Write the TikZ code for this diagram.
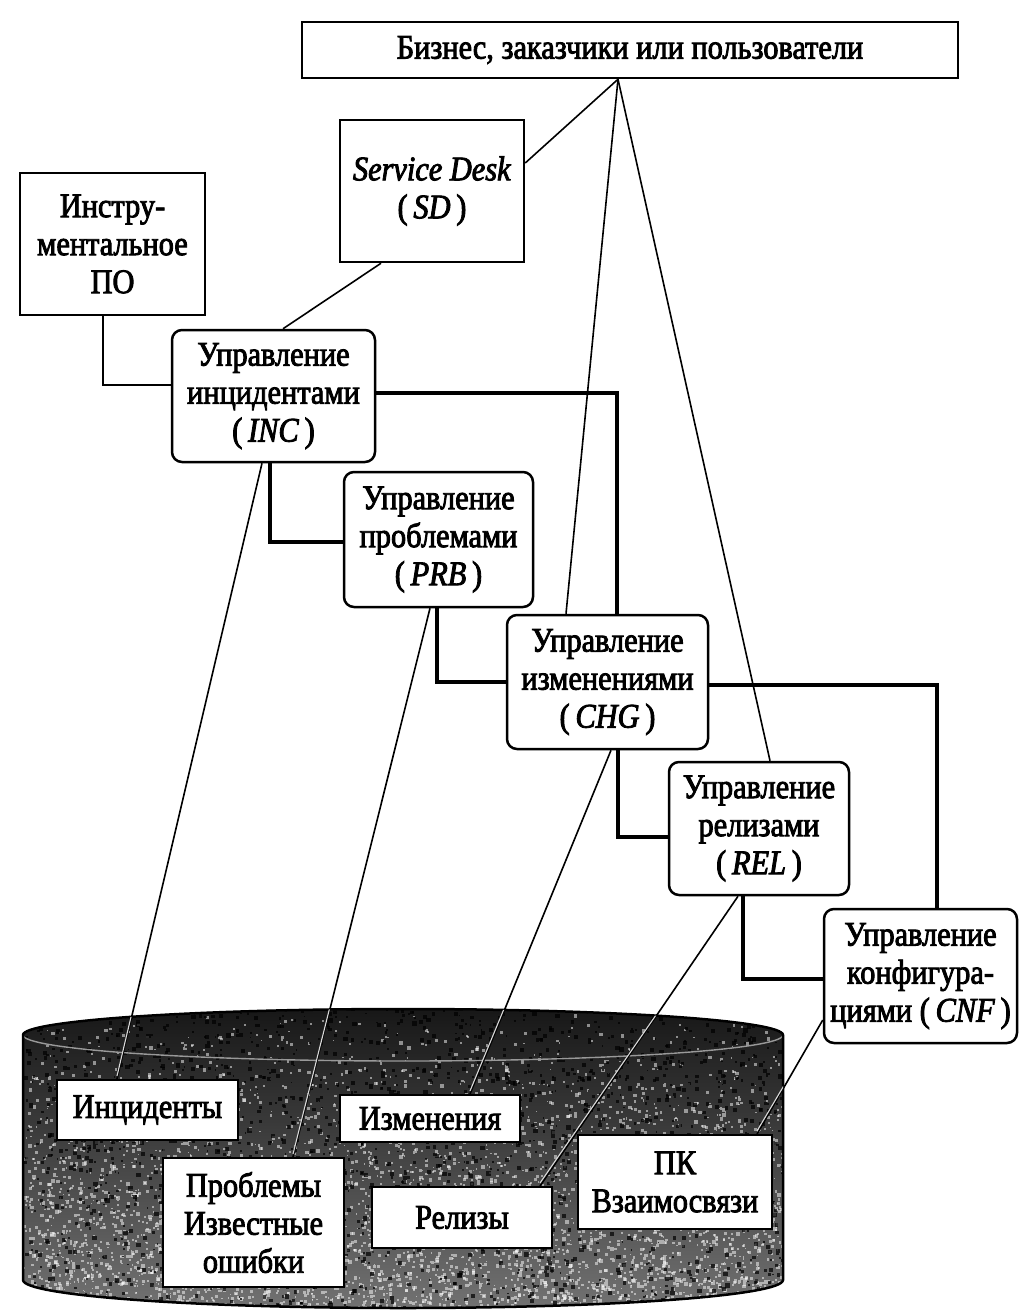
\documentclass[tikz,border=0pt]{standalone}
\usepackage{fontspec}
\setmainfont{Liberation Serif}[FakeStretch=0.88, FakeBold=2.5]
\usetikzlibrary{calc}
\begin{document}
\begin{tikzpicture}[x=1pt,y=-1pt,
  font=\fontsize{34.5}{38}\selectfont,
  box/.style={draw, line width=2.5pt, fill=white, align=center, inner sep=0pt},
  proc/.style={box, rounded corners=10pt},
  rec/.style={box, line width=2pt},
  tree/.style={line width=4pt},
  treethin/.style={line width=2.6pt},
  link/.style={line width=1.6pt},
  glowlink/.style={line width=1.1pt, white!85!black},
  cylout/.style={line width=2.5pt, black}]
\useasboundingbox (0,0) rectangle (1020,1311);

% ---------- cylinder (database) ----------
\begin{scope}
  \clip (23,1035) -- (23,1280) arc[start angle=180,end angle=0,x radius=380,y radius=28]
        -- (783,1035) arc[start angle=0,end angle=-180,x radius=380,y radius=26] -- cycle;
  \shade[top color=black!92, bottom color=black!55] (0,1000) rectangle (1020,1311);
  \pgfmathsetseed{42}
  \foreach \i in {1,...,4500}{
    \pgfmathsetmacro\sz{1.2+2.4*rnd}
    \fill[white, opacity=.5] ({23+760*rnd},{1005+305*sqrt(rnd)}) rectangle ++(\sz,\sz);
  }
  \foreach \i in {1,...,2000}{
    \pgfmathsetmacro\sz{1.5+3*rnd}
    \fill[black, opacity=.7] ({23+760*rnd},{1005+305*rnd}) rectangle ++(\sz,\sz);
  }
\end{scope}
\draw[line width=1.4pt, black!40] (403,1035) ellipse[x radius=380, y radius=26];
\draw[cylout] (23,1035) -- (23,1280) arc[start angle=180,end angle=0,x radius=380,y radius=28]
        -- (783,1035) arc[start angle=0,end angle=-180,x radius=380,y radius=26] -- cycle;

% ---------- nodes ----------
\node[box, minimum width=656pt, minimum height=56pt] (top) at (630,50) {Бизнес, заказчики или пользователи};
\node[box, minimum width=184pt, minimum height=142pt] (sd) at (432,191) {\textit{Service Desk}\\(\,\textit{SD}\,)};
\node[box, minimum width=185pt, minimum height=142pt] (ipo) at (112.5,244) {Инстру-\\ментальное\\ПО};
\node[proc, minimum width=203pt, minimum height=132pt] (inc) at (273.5,396) {Управление\\инцидентами\\(\,\textit{INC}\,)};
\node[proc, minimum width=189pt, minimum height=135pt] (prb) at (438.5,539.5) {Управление\\проблемами\\(\,\textit{PRB}\,)};
\node[proc, minimum width=201pt, minimum height=134pt] (chg) at (607.5,682) {Управление\\изменениями\\(\,\textit{CHG}\,)};
\node[proc, minimum width=180pt, minimum height=133pt] (rel) at (759,828.5) {Управление\\релизами\\(\,\textit{REL}\,)};
\node[proc, minimum width=193pt, minimum height=134pt] (cnf) at (920.5,976) {Управление\\конфигура-\\циями (\,\textit{CNF}\,)};

\node[rec, minimum width=181pt, minimum height=60pt] (rinc) at (147.5,1110) {Инциденты};
\node[rec, minimum width=180pt, minimum height=47pt] (rchg) at (430,1118.5) {Изменения};
\node[rec, minimum width=181pt, minimum height=129pt] (rprb) at (253.5,1222.5) {Проблемы\\Известные\\ошибки};
\node[rec, minimum width=180pt, minimum height=61pt] (rrel) at (462,1217.5) {Релизы};
\node[rec, minimum width=194pt, minimum height=94pt] (rpk) at (675,1182) {ПК\\Взаимосвязи};

% ---------- thin links from the business box ----------
\draw[link] ([xshift=-12pt]top.south) -- ([yshift=28pt]sd.east);
\draw[link] ([xshift=-12pt]top.south) -- ([xshift=-41.5pt]chg.north);
\draw[link] ([xshift=-12pt]top.south) -- ([xshift=11pt]rel.north);
\draw[link] ([xshift=-51pt]sd.south) -- ([xshift=9.5pt]inc.north);

% ---------- tree connectors ----------
\draw[treethin] ([xshift=-9.5pt]ipo.south) |- ([yshift=11pt]inc.west);
\draw[tree] ([yshift=3pt]inc.east) -| ([xshift=9.5pt]chg.north);
\draw[tree] ([xshift=-3.5pt]inc.south) |- ([yshift=-2.5pt]prb.west);
\draw[tree] ([xshift=-1.5pt]prb.south) |- (chg.west);
\draw[tree] ([yshift=-3pt]chg.east) -| ([xshift=16.5pt]cnf.north);
\draw[tree] ([xshift=10.5pt]chg.south) |- ([yshift=-8.5pt]rel.west);
\draw[tree] ([xshift=-16pt]rel.south) |- ([yshift=-3pt]cnf.west);

% ---------- links to the stored records ----------
\draw[link] ([xshift=-11.5pt]inc.south) -- ([xshift=-30.5pt]rinc.north);
\draw[link] ([xshift=-8.5pt]prb.south) -- ([xshift=39.5pt]rprb.north);
\draw[link] ([xshift=3.5pt]chg.south) -- ([xshift=40pt]rchg.north);
\draw[link] ([xshift=-21pt]rel.south) -- ([xshift=78pt]rrel.north);
\draw[link] ([yshift=-44pt]cnf.west) -- ([xshift=82pt]rpk.north);

% pale core of the links where they cross the cylinder
\begin{scope}
  \clip (23,1035) -- (23,1280) arc[start angle=180,end angle=0,x radius=380,y radius=28]
        -- (783,1035) arc[start angle=0,end angle=-180,x radius=380,y radius=26] -- cycle;
  \path[glowlink, draw] ([xshift=-11.5pt]inc.south) -- ([xshift=-30.5pt,yshift=3pt]rinc.north);
  \path[glowlink, draw] ([xshift=-8.5pt]prb.south) -- ([xshift=39.5pt,yshift=3pt]rprb.north);
  \path[glowlink, draw] ([xshift=3.5pt]chg.south) -- ([xshift=40pt,yshift=3pt]rchg.north);
  \path[glowlink, draw] ([xshift=-21pt]rel.south) -- ([xshift=78pt,yshift=3pt]rrel.north);
  \path[glowlink, draw] ([yshift=-44pt]cnf.west) -- ([xshift=82pt,yshift=3pt]rpk.north);
\end{scope}
\end{tikzpicture}
\end{document}
